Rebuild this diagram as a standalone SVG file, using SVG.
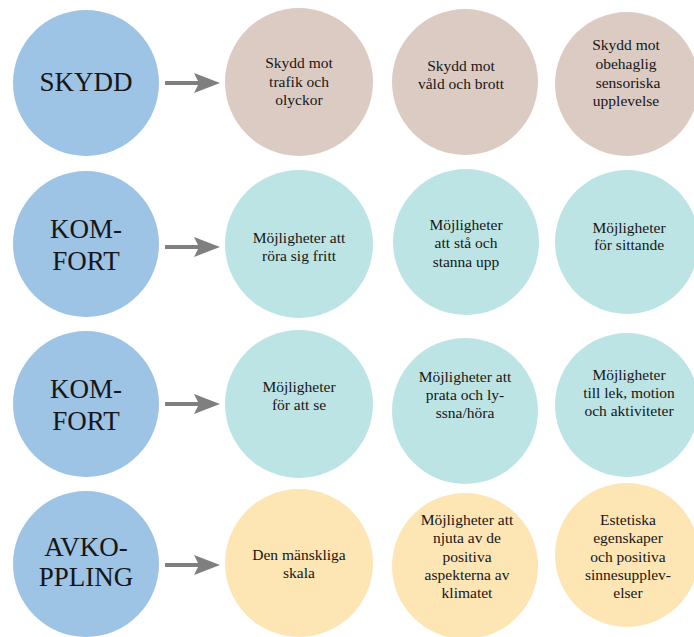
<svg xmlns="http://www.w3.org/2000/svg" width="694" height="637" viewBox="0 0 694 637">
<style>
.cat{fill:#9dc3e5}
.tan{fill:#dccbc3}
.cyan{fill:#bde4e4}
.yel{fill:#fde5b4}
text{font-family:'Liberation Serif','Times New Roman',serif;fill:#161616;text-anchor:middle}
.big{font-size:27px}
.sm{font-size:15.5px}
.conn line{stroke:#7f7f7f;stroke-width:4}
</style>
<defs>
<marker id="ah" markerUnits="userSpaceOnUse" markerWidth="26" markerHeight="20" refX="16" refY="10" orient="auto">
<path d="M0,0 L26,10 L0,20 L5,10 Z" fill="#7f7f7f"/>
</marker>
</defs>
<rect width="694" height="637" fill="#ffffff"/>
<g id="skydd"><circle class="cat" cx="86" cy="83" r="73"/><text class="big" x="86" y="91">SKYDD</text></g>
<g id="komfort1"><circle class="cat" cx="86" cy="244" r="73"/><text class="big" x="86" y="238">KOM-</text><text class="big" x="86" y="270">FORT</text></g>
<g id="komfort2"><circle class="cat" cx="86" cy="404" r="73"/><text class="big" x="86" y="398">KOM-</text><text class="big" x="86" y="430">FORT</text></g>
<g id="avkoppling"><circle class="cat" cx="86" cy="564" r="73"/><text class="big" x="86" y="556">AVKO-</text><text class="big" x="86" y="586">PPLING</text></g>

<g id="r1c1"><circle class="tan" cx="299" cy="82" r="74"/><text class="sm" x="299" y="68">Skydd mot</text><text class="sm" x="299" y="87">trafik och</text><text class="sm" x="299" y="105">olyckor</text></g>
<g id="r1c2"><circle class="tan" cx="465" cy="82" r="73"/><text class="sm" x="461" y="71">Skydd mot</text><text class="sm" x="461" y="89">våld och brott</text></g>
<g id="r1c3"><circle class="tan" cx="627" cy="84" r="72"/><text class="sm" x="626" y="50">Skydd mot</text><text class="sm" x="626" y="69">obehaglig</text><text class="sm" x="628" y="88">sensoriska</text><text class="sm" x="626" y="106">upplevelse</text></g>

<g id="r2c1"><circle class="cyan" cx="299" cy="244" r="74"/><text class="sm" x="299" y="243">Möjligheter att</text><text class="sm" x="299" y="261">röra sig fritt</text></g>
<g id="r2c2"><circle class="cyan" cx="466" cy="242" r="73"/><text class="sm" x="466" y="230">Möjligheter</text><text class="sm" x="466" y="248">att stå och</text><text class="sm" x="466" y="267">stanna upp</text></g>
<g id="r2c3"><circle class="cyan" cx="627" cy="242" r="72"/><text class="sm" x="629" y="233">Möjligheter</text><text class="sm" x="629" y="250">för sittande</text></g>

<g id="r3c1"><circle class="cyan" cx="299" cy="404" r="74"/><text class="sm" x="299" y="392">Möjligheter</text><text class="sm" x="299" y="410">för att se</text></g>
<g id="r3c2"><circle class="cyan" cx="465" cy="411" r="73"/><text class="sm" x="465" y="382">Möjligheter att</text><text class="sm" x="465" y="400">prata och ly-</text><text class="sm" x="465" y="418">ssna/höra</text></g>
<g id="r3c3"><circle class="cyan" cx="627" cy="405" r="72"/><text class="sm" x="629" y="380">Möjligheter</text><text class="sm" x="629" y="398">till lek, motion</text><text class="sm" x="629" y="416">och aktiviteter</text></g>

<g id="r4c1"><circle class="yel" cx="299" cy="563" r="74"/><text class="sm" x="299" y="560">Den mänskliga</text><text class="sm" x="299" y="578">skala</text></g>
<g id="r4c2"><circle class="yel" cx="465" cy="566" r="73"/><text class="sm" x="467" y="525">Möjligheter att</text><text class="sm" x="467" y="543">njuta av de</text><text class="sm" x="467" y="562">positiva</text><text class="sm" x="467" y="580">aspekterna av</text><text class="sm" x="467" y="598">klimatet</text></g>
<g id="r4c3"><circle class="yel" cx="627" cy="555" r="72"/><text class="sm" x="628" y="525">Estetiska</text><text class="sm" x="628" y="543">egenskaper</text><text class="sm" x="628" y="562">och positiva</text><text class="sm" x="628" y="580">sinnesupplev-</text><text class="sm" x="628" y="598">elser</text></g>

<g id="connectors" class="conn">
<line x1="165" y1="83" x2="210" y2="83" marker-end="url(#ah)"/>
<line x1="165" y1="247" x2="210" y2="247" marker-end="url(#ah)"/>
<line x1="165" y1="404" x2="210" y2="404" marker-end="url(#ah)"/>
<line x1="165" y1="565" x2="210" y2="565" marker-end="url(#ah)"/>
</g>
</svg>
